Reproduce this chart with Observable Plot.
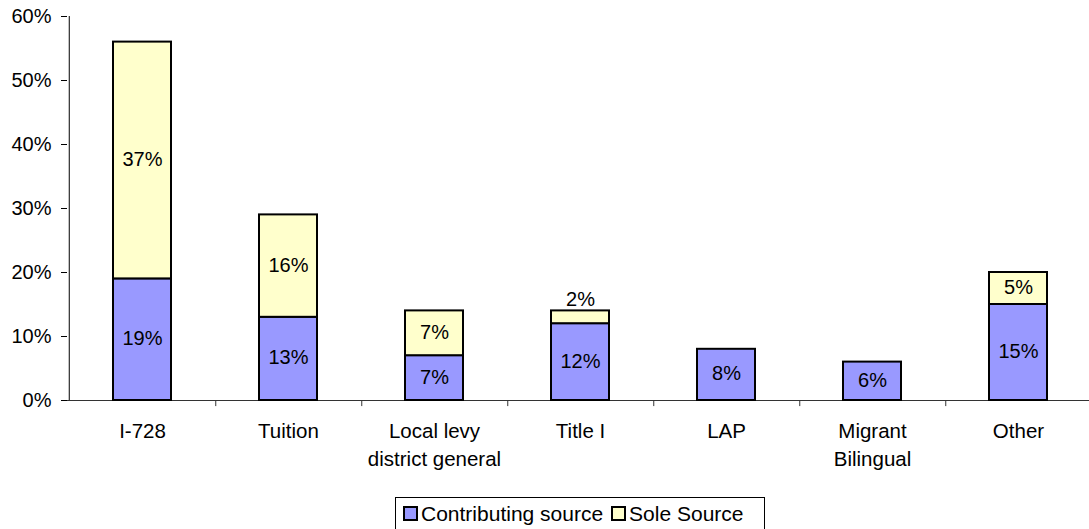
<!DOCTYPE html>
<html><head><meta charset="utf-8">
<script src="https://cdn.jsdelivr.net/npm/d3@7"></script>
<script src="https://cdn.jsdelivr.net/npm/@observablehq/plot@0.6"></script>
<style>
body{margin:0;background:#fff;font-family:"Liberation Sans",Arial,sans-serif;}
#chart svg{display:block;}
#legend{margin-left:395px;margin-top:22px;width:370px;height:32px;border:1px solid #000;border-bottom:none;box-sizing:border-box;display:flex;align-items:center;font-size:21px;color:#000;padding-left:7px;white-space:nowrap;}
#legend .sw{display:inline-block;width:11px;height:11px;border:2px solid #000;margin-right:3px;}
#legend .item{display:flex;align-items:center;margin-right:8px;}
</style></head><body>
<div id="chart"></div>
<div id="legend"></div>
<script>
const categories = ["I-728", "Tuition", "Local levy\ndistrict general", "Title I", "LAP", "Migrant\nBilingual", "Other"];
const contributing = [19, 13, 7, 12, 8, 6, 15];
const sole = [37, 16, 7, 2, 0, 0, 5];
const seriesNames = ["Contributing source", "Sole Source"];
const seriesColors = ["#9999ff", "#ffffcc"];
const yTicks = [0, 10, 20, 30, 40, 50, 60];

const rows = [];
categories.forEach((c, i) => {
  rows.push({cat: c, series: seriesNames[0], value: contributing[i]});
  if (sole[i] > 0) rows.push({cat: c, series: seriesNames[1], value: sole[i]});
});

const step = (1092.5 - 67) / categories.length;

const chart = Plot.plot({
  width: 1089,
  height: 475,
  marginLeft: 67,
  marginRight: 0,
  marginTop: 16,
  marginBottom: 75,
  style: {fontFamily: '"Liberation Sans", Arial, sans-serif', fontSize: "20px", background: "#fff", color: "#000"},
  x: {domain: categories, range: [67, 1092.5], paddingInner: 0.6, paddingOuter: 0.3, label: null},
  y: {domain: [0, 60], label: null},
  color: {domain: seriesNames, range: seriesColors},
  marks: [
    Plot.axisY({ticks: yTicks, tickFormat: d => d + "%", tickSize: 6, tickPadding: 10, fontSize: 20, label: null}),
    Plot.axisX({tickSize: 0, tickPadding: 17, fontSize: 20.5, lineHeight: 1.38, label: null}),
    Plot.ruleY([0], {stroke: "#333", strokeWidth: 1}),
    Plot.ruleX(["I-728"], {x: d => d, y1: 0, y2: 60, dx: -step / 2, stroke: "#000"}),
    Plot.ruleX(categories.slice(0, categories.length - 1), {x: d => d, y1: 0, y2: -0.95, dx: step / 2, stroke: "#333"}),
    Plot.barY(rows, Plot.stackY({x: "cat", y: "value", z: "series", fill: "series", stroke: "#000", strokeWidth: 2})),
    Plot.text(rows, Plot.stackY({x: "cat", y: "value", z: "series", text: d => d.value >= 4 ? d.value + "%" : "", fill: "#000", fontSize: 20, dy: -1})),
    Plot.text(rows, Plot.stackY2({x: "cat", y: "value", z: "series", text: d => d.value < 4 ? d.value + "%" : "", lineAnchor: "bottom", dy: -5, fill: "#000", fontSize: 20}))
  ]
});
document.getElementById("chart").appendChild(chart);

const legend = document.getElementById("legend");
seriesNames.forEach((name, i) => {
  const item = document.createElement("span");
  item.className = "item";
  const sw = document.createElement("span");
  sw.className = "sw";
  sw.style.background = seriesColors[i];
  item.appendChild(sw);
  item.appendChild(document.createTextNode(name));
  legend.appendChild(item);
});
</script>
</body></html>
